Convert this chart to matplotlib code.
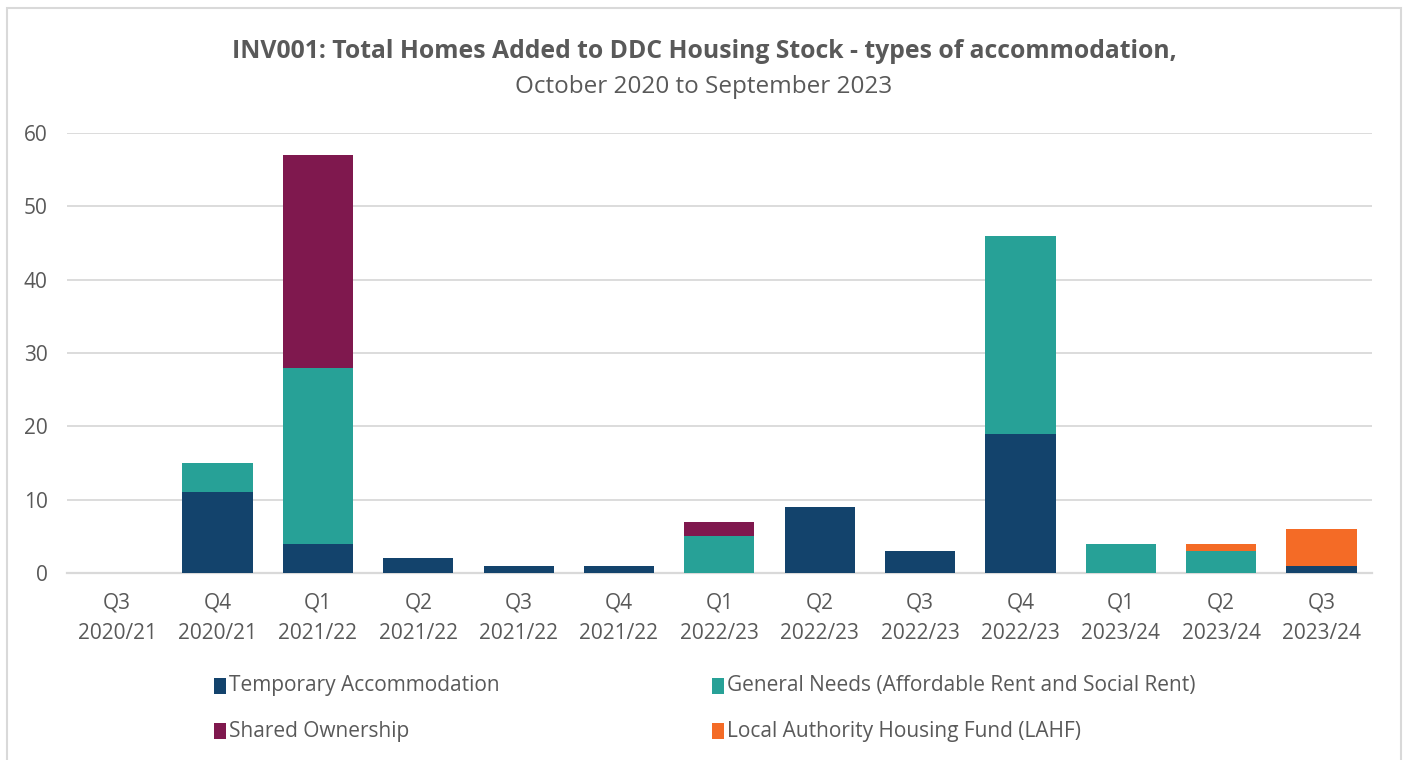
import numpy as np
import matplotlib.pyplot as plt
from matplotlib.patches import Rectangle

plt.rcParams['font.family'] = ['Open Sans', 'DejaVu Sans']

quarters = ['Q3\n2020/21', 'Q4\n2020/21', 'Q1\n2021/22', 'Q2\n2021/22', 'Q3\n2021/22',
            'Q4\n2021/22', 'Q1\n2022/23', 'Q2\n2022/23', 'Q3\n2022/23', 'Q4\n2022/23',
            'Q1\n2023/24', 'Q2\n2023/24', 'Q3\n2023/24']

temporary = [0, 11, 4, 2, 1, 1, 0, 9, 3, 19, 0, 0, 1]
general_needs = [0, 4, 24, 0, 0, 0, 5, 0, 0, 27, 4, 3, 0]
shared_ownership = [0, 0, 29, 0, 0, 0, 2, 0, 0, 0, 0, 0, 0]
lahf = [0, 0, 0, 0, 0, 0, 0, 0, 0, 0, 0, 1, 5]

series = [
    ('Temporary Accommodation', temporary, '#13436c'),
    ('General Needs (Affordable Rent and Social Rent)', general_needs, '#27a197'),
    ('Shared Ownership', shared_ownership, '#7f184e'),
    ('Local Authority Housing Fund (LAHF)', lahf, '#f46b26'),
]

text_col = '#595959'
grid_col = '#d9d9d9'

fig = plt.figure(figsize=(14.08, 7.6), dpi=100)
ax = fig.add_axes([0.0476, 0.246, 0.9266, 0.579])

x = np.arange(len(quarters))
bottom = np.zeros(len(quarters))
for name, vals, col in series:
    vals = np.array(vals, dtype=float)
    ax.bar(x, vals, width=0.7, bottom=bottom, color=col, label=name, zorder=3)
    bottom += vals

ax.set_xlim(-0.5, len(quarters) - 0.5)
ax.set_ylim(0, 60)
ax.set_yticks(range(0, 61, 10))
ax.yaxis.grid(True, color=grid_col, linewidth=1.3, zorder=0)
ax.set_xticks(x)
ax.set_xticklabels(quarters, fontsize=15, color=text_col, linespacing=1.6)
ax.tick_params(axis='y', labelsize=15, labelcolor=text_col, length=0, pad=14)
ax.tick_params(axis='x', length=0, pad=14)
for s in ['top', 'right', 'left']:
    ax.spines[s].set_visible(False)
ax.spines['bottom'].set_color(grid_col)
ax.spines['bottom'].set_linewidth(1.6)

fig.text(0.5, 0.932, 'INV001: Total Homes Added to DDC Housing Stock - types of accommodation,',
         ha='center', va='center', fontsize=17.8, fontweight='bold', color=text_col)
fig.text(0.5, 0.886, 'October 2020 to September 2023',
         ha='center', va='center', fontsize=17.5, color=text_col)

# legend laid out as a 2x2 grid
leg_pos = [(0.152, 0.098), (0.506, 0.098), (0.152, 0.038), (0.506, 0.038)]
for (name, vals, col), (lx, ly) in zip(series, leg_pos):
    fig.patches.append(Rectangle((lx, ly - 0.0105), 0.0085, 0.021, transform=fig.transFigure,
                                 facecolor=col, edgecolor='none'))
    fig.text(lx + 0.0105, ly, name, ha='left', va='center', fontsize=15, color=text_col)

# chart border
fig.patches.append(Rectangle((0.005, -0.05), 0.990, 1.04, transform=fig.transFigure,
                             facecolor='none', edgecolor='#d9d9d9', linewidth=1.5))

fig.savefig('out.png', dpi=100)
